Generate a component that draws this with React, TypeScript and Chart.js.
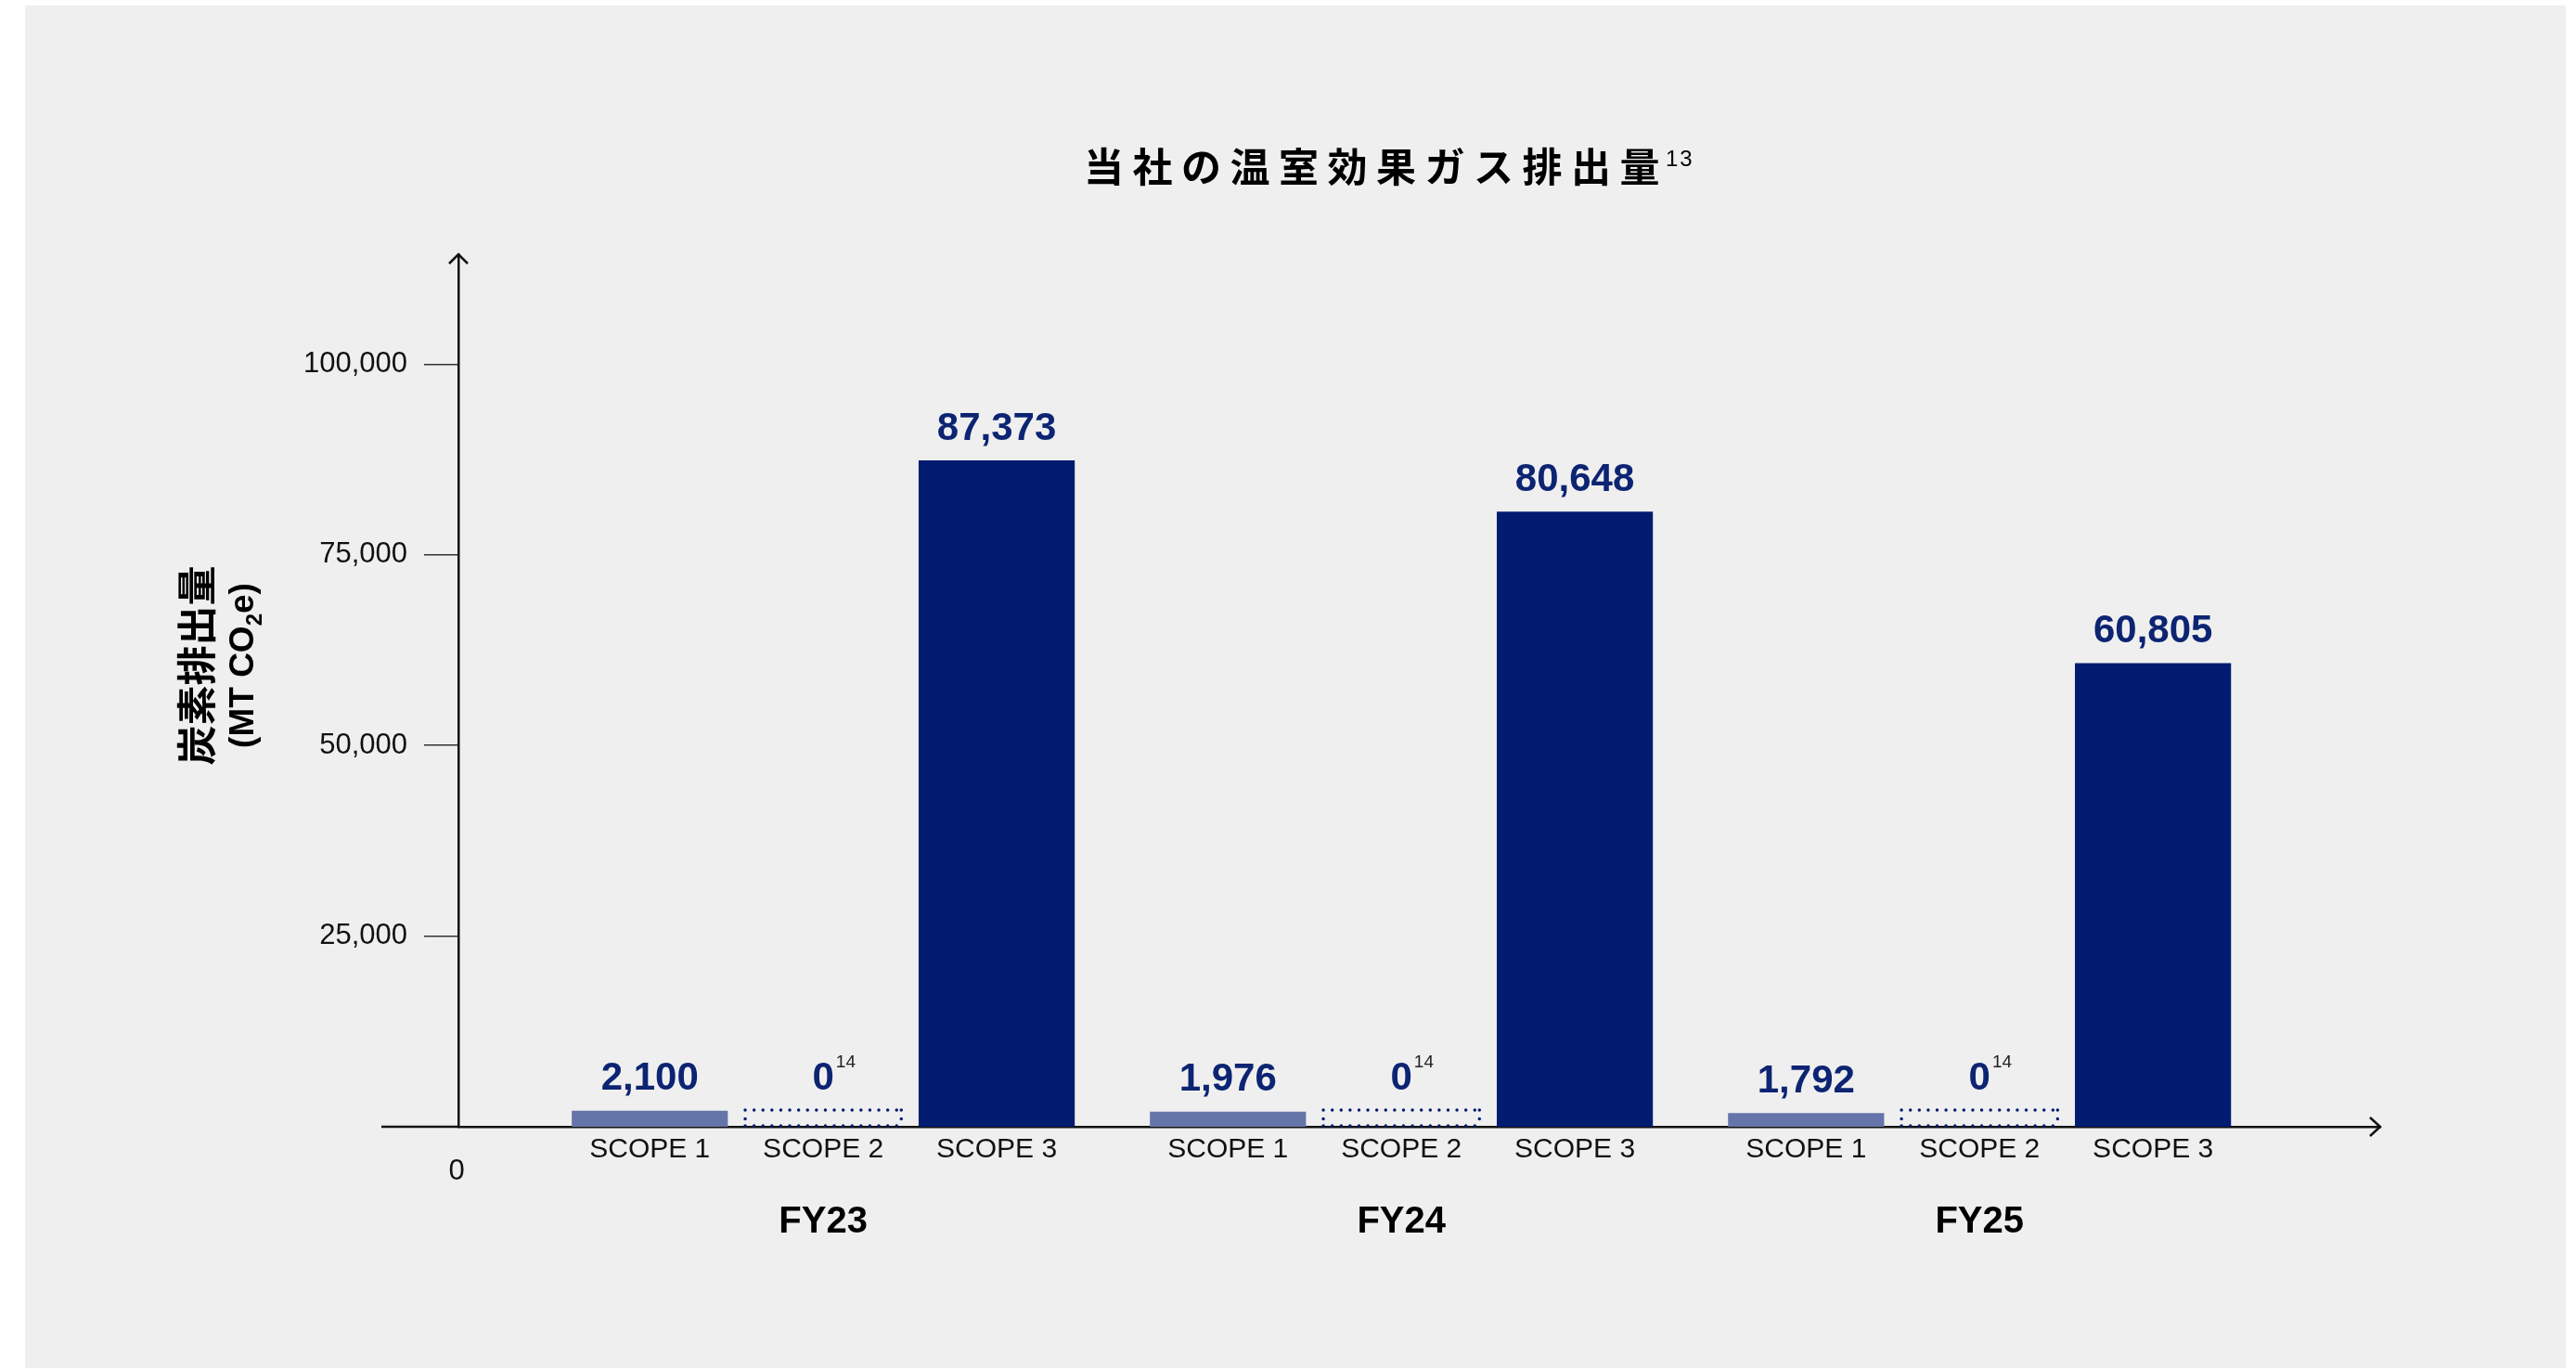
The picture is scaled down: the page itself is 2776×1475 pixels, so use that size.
import React, { useEffect, useRef } from 'react';
import { Chart, registerables } from 'chart.js';

Chart.register(...registerables);

// ---- data ----
const chartTitle = '当社の温室効果ガス排出量';
const titleFootnote = '13';
const fiscalYears = ['FY23', 'FY24', 'FY25'];
const scopeNames = ['SCOPE 1', 'SCOPE 2', 'SCOPE 3'];
const scope1Values = [2100, 1976, 1792];
const scope2Values = [0, 0, 0];
const scope3Values = [87373, 80648, 60805];
const scope2Footnote = '14';
const yTickValues = [25000, 50000, 75000, 100000];
const yAxisMax = 114400;
const yAxisTitleLine1 = '炭素排出量';
const yAxisTitleLine2 = ['(MT CO', '2', 'e)'];
const originLabel = '0';

// ---- styling ----
const FONT = '"Liberation Sans", Arial, "Noto Sans CJK JP", sans-serif';
const CJK = '"Noto Sans CJK JP", "Liberation Sans", sans-serif';
const NAVY = '#001b70';
const LIGHT = '#6675a9';
const LABEL_NAVY = '#0c2472';
const CAT_PCT = 0.9;
const BAR_PCT = 0.9;
const X_MIN = -0.631;
const X_MAX = 2.693;

const fmt = (v: number) => v.toLocaleString('en-US');

const seriesValues = [scope1Values, scope2Values, scope3Values];
const seriesColors = [LIGHT, 'rgba(0,0,0,0)', NAVY];

const decorPlugin = {
  id: 'decor',
  afterDatasetsDraw(chart: any) {
    const { ctx, chartArea } = chart;
    const { left, right, top, bottom } = chartArea;
    ctx.save();

    // axis extension and arrows
    ctx.strokeStyle = '#111';
    ctx.lineWidth = 2.5;
    ctx.lineCap = 'butt';
    ctx.beginPath();
    ctx.moveTo(left - 83, bottom);
    ctx.lineTo(left, bottom);
    ctx.stroke();

    ctx.lineJoin = 'miter';
    ctx.beginPath();
    ctx.moveTo(left - 10, top + 10);
    ctx.lineTo(left, top);
    ctx.lineTo(left + 10, top + 10);
    ctx.stroke();

    ctx.beginPath();
    ctx.moveTo(right - 11, bottom - 10);
    ctx.lineTo(right, bottom);
    ctx.lineTo(right - 11, bottom + 10);
    ctx.stroke();

    // origin label
    ctx.fillStyle = '#111';
    ctx.font = `31px ${FONT}`;
    ctx.textAlign = 'center';
    ctx.textBaseline = 'middle';
    ctx.fillText(originLabel, left - 2, bottom + 48);

    // y axis title (two lines, rotated)
    ctx.save();
    const midY = (top + bottom) / 2 - 27;
    ctx.translate(185, midY);
    ctx.rotate(-Math.PI / 2);
    ctx.fillStyle = '#000';
    ctx.textAlign = 'center';
    ctx.textBaseline = 'middle';
    ctx.font = `bold 43px ${CJK}`;
    ctx.fillText(yAxisTitleLine1, 0, 0);
    // second line with subscript
    const f2 = `bold 37px ${FONT}`;
    const fs = `bold 24px ${FONT}`;
    ctx.font = f2;
    const wa = ctx.measureText(yAxisTitleLine2[0]).width;
    const wc = ctx.measureText(yAxisTitleLine2[2]).width;
    ctx.font = fs;
    const wb = ctx.measureText(yAxisTitleLine2[1]).width;
    const total = wa + wb + wc;
    let cx = -total / 2;
    const ly = 51;
    ctx.textAlign = 'left';
    ctx.font = f2;
    ctx.fillText(yAxisTitleLine2[0], cx, ly);
    cx += wa;
    ctx.font = fs;
    ctx.fillText(yAxisTitleLine2[1], cx, ly + 12);
    cx += wb;
    ctx.font = f2;
    ctx.fillText(yAxisTitleLine2[2], cx, ly);
    ctx.restore();

    // dotted boxes for zero-value scope 2
    const meta2 = chart.getDatasetMeta(1);
    meta2.data.forEach((bar: any) => {
      const { x, width, base } = bar.getProps(['x', 'width', 'base'], true);
      const x0 = x - width / 2;
      const x1 = x + width / 2;
      const y0 = base - 18;
      const y1 = base - 1;
      ctx.save();
      ctx.strokeStyle = NAVY;
      ctx.lineWidth = 3.5;
      ctx.lineCap = 'round';
      ctx.setLineDash([0, 9.6]);
      ctx.beginPath();
      ctx.moveTo(x0, y0);
      ctx.lineTo(x1, y0);
      ctx.moveTo(x0, y1);
      ctx.lineTo(x1, y1);
      ctx.moveTo(x0, y0);
      ctx.lineTo(x0, y1);
      ctx.moveTo(x1, y0);
      ctx.lineTo(x1, y1);
      ctx.stroke();
      ctx.restore();
    });

    // value labels
    chart.data.datasets.forEach((_ds: any, s: number) => {
      const meta = chart.getDatasetMeta(s);
      meta.data.forEach((bar: any, i: number) => {
        const { x, y, base } = bar.getProps(['x', 'y', 'base'], true);
        const v = seriesValues[s][i];
        const topY = v === 0 ? base - 18 : Math.min(y, base);
        const cy = topY - 34;
        const txt = fmt(v);
        ctx.font = `bold 42px ${FONT}`;
        ctx.fillStyle = LABEL_NAVY;
        ctx.textAlign = 'center';
        ctx.textBaseline = 'middle';
        ctx.fillText(txt, x, cy);
        if (s === 1) {
          const w = ctx.measureText(txt).width;
          ctx.font = `19px ${FONT}`;
          ctx.fillStyle = '#222';
          ctx.textAlign = 'left';
          ctx.fillText(scope2Footnote, x + w / 2 + 2, cy - 17);
        }
      });
    });

    ctx.restore();
  },
};

export default function App() {
  const ref = useRef<HTMLCanvasElement>(null);

  useEffect(() => {
    const canvas = ref.current;
    if (!canvas) return;
    const slot = CAT_PCT / scopeNames.length;
    const xCommon = {
      type: 'linear',
      position: 'bottom',
      min: X_MIN,
      max: X_MAX,
      offset: false,
      bounds: 'data',
    };
    const chart = new Chart(canvas, {
      type: 'bar',
      data: {
        datasets: scopeNames.map((name, s) => ({
          label: name,
          data: seriesValues[s].map((v, i) => ({ x: i, y: v })),
          backgroundColor: seriesColors[s],
          borderWidth: 0,
          categoryPercentage: CAT_PCT,
          barPercentage: BAR_PCT,
          xAxisID: 'x',
          yAxisID: 'y',
        })),
      } as any,
      options: {
        responsive: false,
        animation: false,
        devicePixelRatio: 1,
        layout: { padding: { left: 0, right: 200, top: 268, bottom: 110 } },
        plugins: {
          legend: { display: false },
          title: { display: false },
          tooltip: { enabled: false },
        },
        scales: {
          x: {
            ...xCommon,
            weight: 0,
            afterBuildTicks: (s: any) => {
              s.ticks = fiscalYears.map((_, i) => ({ value: i }));
            },
            afterFit: (s: any) => {
              s.height = 0;
            },
            grid: { display: false, drawTicks: false, offset: false },
            ticks: { display: false },
            border: { display: true, color: '#111', width: 2.5 },
          },
          xScope: {
            ...xCommon,
            weight: 1,
            afterBuildTicks: (s: any) => {
              s.ticks = fiscalYears.flatMap((_, i) =>
                scopeNames.map((__, k) => ({ value: i + (k - (scopeNames.length - 1) / 2) * slot }))
              );
            },
            afterFit: (s: any) => {
              s.height = 50;
            },
            grid: { display: false, drawTicks: false, offset: false },
            border: { display: false },
            ticks: {
              autoSkip: false,
              maxRotation: 0,
              minRotation: 0,
              padding: 7,
              color: '#111',
              font: { family: FONT, size: 30 },
              callback: (_v: any, idx: number) => scopeNames[idx % scopeNames.length],
            },
          },
          xYear: {
            ...xCommon,
            weight: 2,
            afterBuildTicks: (s: any) => {
              s.ticks = fiscalYears.map((_, i) => ({ value: i }));
            },
            afterFit: (s: any) => {
              s.height = 100;
            },
            grid: { display: false, drawTicks: false, offset: false },
            border: { display: false },
            ticks: {
              autoSkip: false,
              maxRotation: 0,
              minRotation: 0,
              padding: 29,
              color: '#000',
              font: { family: FONT, size: 40, weight: 'bold' },
              callback: (_v: any, idx: number) => fiscalYears[idx],
            },
          },
          y: {
            type: 'linear',
            position: 'left',
            min: 0,
            max: yAxisMax,
            afterBuildTicks: (s: any) => {
              s.ticks = yTickValues.map((v) => ({ value: v }));
            },
            afterFit: (s: any) => {
              s.width = 467;
            },
            grid: {
              display: true,
              drawOnChartArea: false,
              drawTicks: true,
              tickLength: 37,
              color: '#333',
              lineWidth: 1.5,
            },
            border: { display: true, color: '#111', width: 2.5 },
            ticks: {
              padding: 18,
              color: '#111',
              font: { family: FONT, size: 31 },
              callback: (v: any) => fmt(Number(v)),
            },
            title: { display: false },
          },
        },
      } as any,
      plugins: [decorPlugin],
    });
    return () => chart.destroy();
  }, []);

  return (
    <div
      style={{
        position: 'absolute',
        left: 27,
        top: 6,
        width: 2738,
        height: 1468,
        background: '#efefef',
        overflow: 'hidden',
      }}
    >
      <canvas
        ref={ref}
        width={2738}
        height={1468}
        style={{ position: 'absolute', left: 0, top: 0, width: 2738, height: 1468 }}
      />
      <div
        style={{
          position: 'absolute',
          left: 1141,
          top: 150,
          whiteSpace: 'nowrap',
          fontFamily: '"Noto Sans CJK JP", sans-serif',
          fontWeight: 700,
          fontSize: 43,
          lineHeight: '43px',
          letterSpacing: 9.5,
          color: '#000',
        }}
      >
        {chartTitle}
        <span
          style={{
            fontFamily: '"Liberation Sans", Arial, sans-serif',
            fontWeight: 400,
            fontSize: 24,
            letterSpacing: 2,
            position: 'relative',
            top: -17,
            marginLeft: -3,
          }}
        >
          {titleFootnote}
        </span>
      </div>
    </div>
  );
}
